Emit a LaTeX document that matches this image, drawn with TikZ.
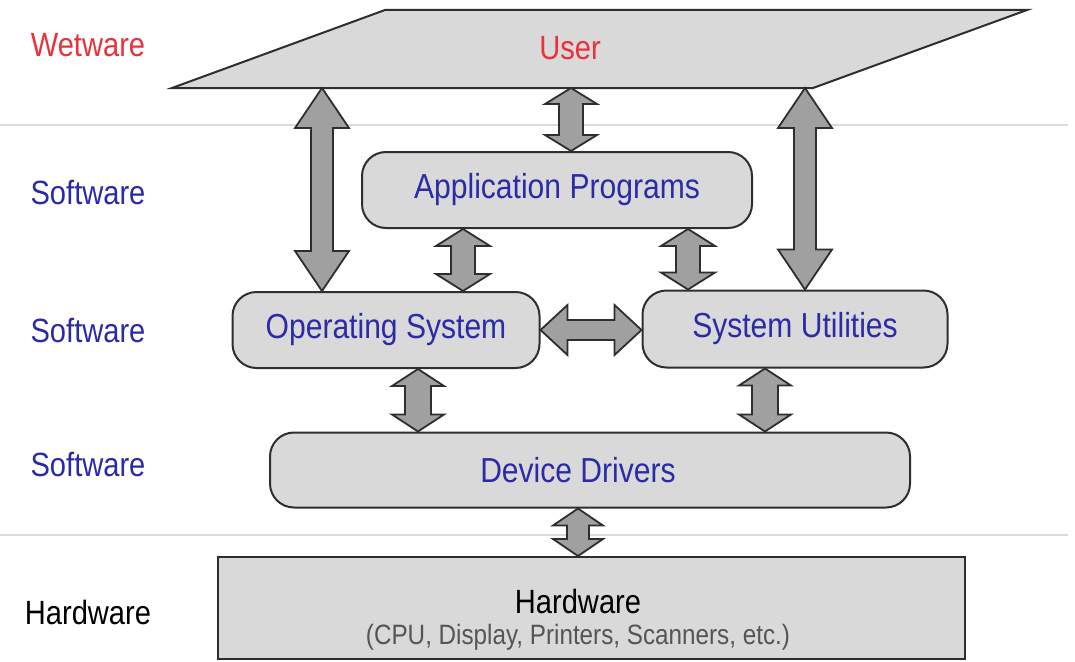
\documentclass[tikz,border=0pt]{standalone}
\usepackage{graphicx}
\usepackage{fontspec}
\setmainfont{Liberation Sans}
\usetikzlibrary{calc}
\definecolor{boxfill}{HTML}{D9D9D9}
\definecolor{arrfill}{HTML}{A0A0A0}
\definecolor{edgec}{HTML}{2E2E2E}
\definecolor{blu}{HTML}{2B2BA8}
\definecolor{rd}{HTML}{E8323C}
\definecolor{sepc}{HTML}{DADADA}
\definecolor{subc}{HTML}{555555}
\newcommand\tall[1]{\scalebox{0.97}[1.12]{#1}}
% vertical block arrow: #1 upper end, #2 lower end, #3 shaft half width, #4 head half width, #5 head length
\newcommand\vbarrow[5]{%
  \draw[barrow] let \p1=(#1), \p2=(#2) in
    (\x1,\y1) -- (\x1+#4pt,\y1-#5pt) -- (\x1+#3pt,\y1-#5pt) -- (\x1+#3pt,\y2+#5pt)
    -- (\x1+#4pt,\y2+#5pt) -- (\x1,\y2) -- (\x1-#4pt,\y2+#5pt) -- (\x1-#3pt,\y2+#5pt)
    -- (\x1-#3pt,\y1-#5pt) -- (\x1-#4pt,\y1-#5pt) -- cycle;}
% horizontal block arrow: #1 left end, #2 right end
\newcommand\hbarrow[5]{%
  \draw[barrow] let \p1=(#1), \p2=(#2) in
    (\x1,\y1) -- (\x1+#5pt,\y1+#4pt) -- (\x1+#5pt,\y1+#3pt) -- (\x2-#5pt,\y1+#3pt)
    -- (\x2-#5pt,\y1+#4pt) -- (\x2,\y1) -- (\x2-#5pt,\y1-#4pt) -- (\x2-#5pt,\y1-#3pt)
    -- (\x1+#5pt,\y1-#3pt) -- (\x1+#5pt,\y1-#4pt) -- cycle;}
\begin{document}
\begin{tikzpicture}[x=1pt,y=-1pt,
  layer/.style={font=\fontsize{30}{36}\selectfont, anchor=center},
  rbox/.style={draw=edgec, line width=2pt, fill=boxfill, rounded corners=24pt,
    text=blu, font=\fontsize{31}{37}\selectfont, inner sep=0pt},
  barrow/.style={draw=edgec, line width=1.8pt, fill=arrfill, line join=miter},
  sepline/.style={draw=sepc, line width=2pt}]
\useasboundingbox (0,0) rectangle (1075,661);
\fill[white] (0,0) rectangle (1075,661);

% separators
\coordinate (s1l) at (0,125); \coordinate (s1r) at (1068,125);
\coordinate (s2l) at (0,535); \coordinate (s2r) at (1068,535);
\draw[sepline] (s1l) -- (s1r);
\draw[sepline] (s2l) -- (s2r);

% layer labels
\node[layer, text=rd] (lw) at (88,45) {\tall{Wetware}};
\node[layer, text=blu] (ls1) at (88,193) {\tall{Software}};
\node[layer, text=blu] (ls2) at (88,331) {\tall{Software}};
\node[layer, text=blu] (ls3) at (88,464) {\tall{Software}};
\node[layer, text=black] (lh) at (88,612) {\tall{Hardware}};

% user plane
\coordinate (ubl) at (172,88); \coordinate (utl) at (385,10);
\coordinate (utr) at (1027,10); \coordinate (ubr) at (813,88);
\draw[draw=edgec, line width=2pt, fill=boxfill, line join=miter] (ubl) -- (utl) -- (utr) -- (ubr) -- cycle;
\node[text=rd, font=\fontsize{30}{36}\selectfont] (user) at (570,48) {\tall{User}};

% boxes
\node[rbox, minimum width=390pt, minimum height=76pt] (app) at (557,190) {\tall{Application Programs}};
\node[rbox, minimum width=307pt, minimum height=76pt] (os) at (386,330) {\tall{Operating System}};
\node[rbox, minimum width=305pt, minimum height=77pt] (su) at (795,329) {\tall{System Utilities}};
\node[rbox, minimum width=640pt, minimum height=75pt] (dd) at (590,470) {\hspace*{-24pt}\tall{Device Drivers}};
\node[draw=edgec, line width=2pt, fill=boxfill, minimum width=747pt, minimum height=102pt, inner sep=0pt] (hw) at (591,608) {};
\node[font=\fontsize{30}{36}\selectfont] (hwt) at (578,601) {\tall{Hardware}};
\node[text=subc, font=\fontsize{25}{30}\selectfont] (hws) at (578,637) {\tall{(CPU, Display, Printers, Scanners, etc.)}};

% arrow columns
\coordinate (xl) at (322,0);
\coordinate (xm) at (571,0);
\coordinate (xr) at (805,0);
\coordinate (xa1) at (463,0);
\coordinate (xa2) at (688,0);
\coordinate (xd1) at (418,0);
\coordinate (xd2) at (765,0);
\coordinate (xh) at (578,0);
\coordinate (yh) at (0,330);

% arrows
\vbarrow{ubl -| xl}{os.north -| xl}{11}{27}{40}
\vbarrow{ubl -| xr}{su.north -| xr}{11}{27}{40}
\vbarrow{ubl -| xm}{app.north -| xm}{12}{26}{16}
\vbarrow{app.south -| xa1}{os.north -| xa1}{12}{27}{17}
\vbarrow{app.south -| xa2}{su.north -| xa2}{12}{27}{17}
\hbarrow{os.east |- yh}{su.west |- yh}{10}{25}{27}
\vbarrow{os.south -| xd1}{dd.north -| xd1}{13}{26}{17}
\vbarrow{su.south -| xd2}{dd.north -| xd2}{13}{26}{17}
\vbarrow{dd.south -| xh}{hw.north -| xh}{11}{25}{17}
\end{tikzpicture}
\end{document}
